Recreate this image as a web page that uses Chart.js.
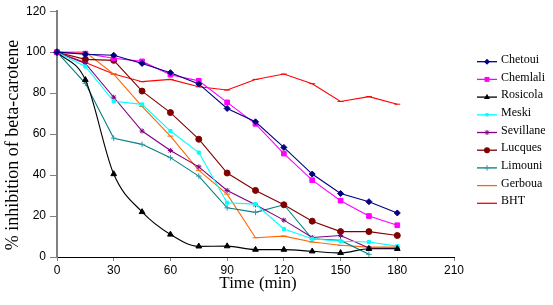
<!DOCTYPE html>
<html>
<head>
<meta charset="utf-8">
<script src="https://cdn.jsdelivr.net/npm/chart.js@4/dist/chart.umd.min.js"></script>
<style>
html,body{margin:0;padding:0;background:#fff;}
#wrap{width:553px;height:305px;}
</style>
</head>
<body>
<div id="wrap"><canvas id="c" width="553" height="305"></canvas></div>
<script>
const times = [0, 15, 30, 45, 60, 75, 90, 105, 120, 135, 150, 165, 180];
const xTicks = [0, 30, 60, 90, 120, 150, 180, 210];
const yTicks = [0, 20, 40, 60, 80, 100, 120];
const seriesNames = ["Chetoui", "Chemlali", "Rosicola", "Meski", "Sevillane", "Lucques", "Limouni", "Gerboua", "BHT"];

const chetoui   = [100, 99, 98.5, 94.5, 90, 84.5, 72.5, 66, 53.5, 40.5, 31, 27, 21.5];
const chemlali  = [100, 99.3, 97, 95.5, 89, 86, 75.5, 65, 50.5, 37.5, 27.5, 20, 15.5];
const rosicola  = [100, 86.5, 40.5, 22, 11, 5.2, 5.3, 3.6, 3.6, 2.8, 2.0, 4.0, 4.0];
const meski     = [100, 93, 76, 74.5, 61.5, 51, 26.5, 25.8, 13.7, 8.9, 7.7, 7.3, 5.3];
const sevillane = [100, 94.5, 78, 61.5, 52, 44, 32.5, 25.5, 18, 9.5, 10.5, 4.4, 4.2];
const lucques   = [100, 96.5, 96, 81, 70.5, 57.5, 41, 32.5, 25.5, 17.5, 12.4, 12.4, 10.5];
const limouni   = [100, 84.8, 58, 55, 48.5, 39.5, 24, 21.8, 25.5, 8.9, 8.1, 1.3];
const gerboua   = [100, 100, 89.3, 73.5, 59, 42.3, 30.7, 9.4, 10.2, 7.3, 5.7, 4.8, 4.8];
const bht       = [100, 95, 89.3, 85.6, 86.7, 83.1, 81.5, 86.7, 89.3, 84.6, 75.9, 78.3, 74.6];

function pts(vals){ return vals.map((v,i)=>({x: times[i], y: v})); }

const styles = [
  {line:'#000080', pt:'#000080', shape:'rectRot', r:3},
  {line:'#FF00FF', pt:'#FF00FF', shape:'rect', r:3.3},
  {line:'#000000', pt:'#000000', shape:'triangle', r:3.3},
  {line:'#00FFFF', pt:'#00FFFF', shape:'rect', r:2.2},
  {line:'#800080', pt:'#800080', shape:'star', r:2.6},
  {line:'#800000', pt:'#800000', shape:'circle', r:3},
  {line:'#008080', pt:'#3399AA', shape:'cross', r:2.8},
  {line:'#FF6600', pt:'#FF6600', shape:'line', r:3},
  {line:'#FF0000', pt:'#FF0000', shape:'line', r:3}
];
const allVals = [chetoui, chemlali, rosicola, meski, sevillane, lucques, limouni, gerboua, bht];

const datasets = allVals.map((vals, i) => ({
  label: seriesNames[i],
  data: pts(vals),
  borderColor: styles[i].line,
  borderWidth: 1.1,
  backgroundColor: styles[i].pt,
  pointBackgroundColor: styles[i].pt,
  pointBorderColor: styles[i].pt,
  pointBorderWidth: 1,
  pointStyle: styles[i].shape,
  pointRadius: styles[i].r,
  pointHoverRadius: styles[i].r,
  tension: seriesNames[i] === 'Rosicola' ? 0.35 : 0,
  cubicInterpolationMode: seriesNames[i] === 'Rosicola' ? 'monotone' : 'default',
  fill: false,
  clip: false
}));

function drawMarker(ctx, shape, x, y, r, color){
  ctx.save();
  ctx.fillStyle = color; ctx.strokeStyle = color; ctx.lineWidth = 1;
  ctx.beginPath();
  if (shape === 'rectRot'){
    ctx.moveTo(x, y-r); ctx.lineTo(x+r, y); ctx.lineTo(x, y+r); ctx.lineTo(x-r, y); ctx.closePath(); ctx.fill();
  } else if (shape === 'rect'){
    ctx.rect(x-r*0.75, y-r*0.75, r*1.5, r*1.5); ctx.fill();
  } else if (shape === 'triangle'){
    ctx.moveTo(x, y-r); ctx.lineTo(x+r*0.9, y+r*0.6); ctx.lineTo(x-r*0.9, y+r*0.6); ctx.closePath(); ctx.fill();
  } else if (shape === 'circle'){
    ctx.arc(x, y, r, 0, Math.PI*2); ctx.fill();
  } else if (shape === 'star'){
    ctx.moveTo(x-r, y); ctx.lineTo(x+r, y); ctx.moveTo(x, y-r); ctx.lineTo(x, y+r);
    ctx.moveTo(x-r*0.7, y-r*0.7); ctx.lineTo(x+r*0.7, y+r*0.7);
    ctx.moveTo(x-r*0.7, y+r*0.7); ctx.lineTo(x+r*0.7, y-r*0.7); ctx.stroke();
  } else if (shape === 'cross'){
    ctx.moveTo(x-r, y); ctx.lineTo(x+r, y); ctx.moveTo(x, y-r); ctx.lineTo(x, y+r); ctx.stroke();
  } else if (shape === 'line'){
    ctx.moveTo(x-r, y); ctx.lineTo(x+r, y); ctx.stroke();
  }
  ctx.restore();
}

const extras = {
  id: 'extras',
  afterDraw(chart){
    const ctx = chart.ctx;
    ctx.save();
    ctx.fillStyle = '#000';
    ctx.font = '17px "Liberation Serif", "Times New Roman", serif';
    ctx.textAlign = 'center'; ctx.textBaseline = 'middle';
    ctx.fillText('Time (min)', 258, 284);
    ctx.save();
    ctx.translate(13, 145);
    ctx.rotate(-Math.PI/2);
    ctx.font = '18px "Liberation Serif", "Times New Roman", serif';
    ctx.fillText('% inhibition of beta-carotene', 0, 0);
    ctx.restore();
    ctx.font = '12px "Liberation Serif", "Times New Roman", serif';
    ctx.textAlign = 'left'; ctx.textBaseline = 'middle';
    chart.data.datasets.forEach((ds, i) => {
      const y = 61.7 + i * 17.7;
      ctx.strokeStyle = ds.borderColor; ctx.lineWidth = 1.3;
      ctx.beginPath(); ctx.moveTo(477, y); ctx.lineTo(497, y); ctx.stroke();
      if (ds.pointStyle !== 'line') drawMarker(ctx, ds.pointStyle, 487, y, ds.pointRadius, ds.pointBackgroundColor);
      ctx.fillStyle = '#000';
      ctx.fillText(ds.label, 501, y - 2);
    });
    ctx.restore();
  }
};

new Chart(document.getElementById('c'), {
  type: 'line',
  data: { datasets },
  options: {
    responsive: false,
    animation: false,
    devicePixelRatio: 1,
    layout: { padding: { left: 0, right: 99, top: 9, bottom: 0 } },
    plugins: { legend: { display: false }, tooltip: { enabled: false } },
    scales: {
      x: {
        type: 'linear', min: 0, max: 210,
        afterFit(s){ s.height = 48; },
        afterBuildTicks(s){ s.ticks = xTicks.map(v => ({value: v})); },
        ticks: { color: '#000', padding: 2, font: { family: '"Liberation Sans", Arial, sans-serif', size: 12 }, maxRotation: 0 },
        grid: { drawOnChartArea: false, drawTicks: true, tickLength: 4, tickColor: '#808080', tickWidth: 1 },
        border: { display: true, color: '#000', width: 1 }
      },
      y: {
        type: 'linear', min: 0, max: 120,
        afterFit(s){ s.width = 57; },
        afterBuildTicks(s){ s.ticks = yTicks.map(v => ({value: v})); },
        ticks: { color: '#000', padding: 4, font: { family: '"Liberation Sans", Arial, sans-serif', size: 12 } },
        grid: { drawOnChartArea: false, drawTicks: true, tickLength: 7, tickColor: '#808080', tickWidth: 1 },
        border: { display: true, color: '#808080', width: 2 }
      }
    }
  },
  plugins: [extras]
});
</script>
</body>
</html>
